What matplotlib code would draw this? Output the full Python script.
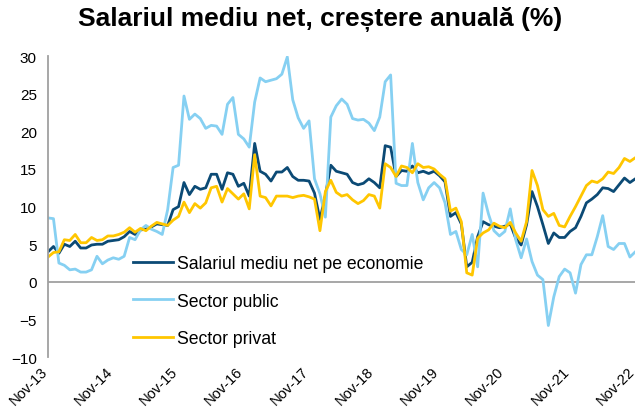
import numpy as np
import matplotlib
matplotlib.use("Agg")
import matplotlib.pyplot as plt
from matplotlib.transforms import ScaledTranslation

plt.rcParams['font.family'] = ['Liberation Sans', 'DejaVu Sans']

# monthly, Nov-13 .. Nov-22
total = [4.0, 4.7, 3.8, 5.0, 4.7, 5.4, 4.5, 4.5, 4.9, 5.0, 5.0, 5.4, 5.5,
         5.6, 6.0, 6.7, 6.3, 6.9, 7.0, 7.3, 7.7, 7.6, 7.5, 9.6, 10.0,
         13.2, 11.6, 12.7, 12.3, 12.5, 14.3, 14.3, 12.3, 14.5, 14.3, 12.7, 13.1,
         11.4, 18.4, 14.7, 14.3, 13.4, 14.6, 14.6, 15.2, 14.0, 13.5, 13.5, 13.4,
         11.8, 8.3, 11.5, 15.5, 14.7, 14.5, 14.3, 13.2, 12.9, 13.1, 13.7, 13.2,
         12.5, 18.1, 17.9, 14.0, 14.8, 14.7, 15.4, 14.5, 14.7, 14.4, 14.7, 14.1,
         13.3, 8.7, 9.2, 7.7, 2.0, 2.6, 6.0, 8.0, 7.6, 7.4, 7.2, 7.4,
         7.7, 5.8, 4.9, 7.6, 12.0, 10.0, 7.6, 5.1, 6.5, 5.9, 5.9, 6.7,
         7.2, 8.7, 10.5, 11.0, 11.6, 12.5, 12.4, 12.0, 12.9, 13.8, 13.2, 13.7]

public = [8.5, 8.4, 2.5, 2.2, 1.6, 1.7, 1.3, 1.3, 1.6, 3.4, 2.4, 2.9, 3.2,
          3.0, 3.4, 5.9, 5.6, 6.9, 7.5, 7.0, 6.7, 6.3, 9.6, 15.2, 15.5,
          24.7, 21.6, 22.3, 21.7, 20.4, 20.8, 20.7, 19.6, 23.6, 24.5, 19.6, 19.0,
          17.9, 23.9, 27.1, 26.6, 26.8, 27.0, 27.6, 29.9, 24.2, 21.8, 20.4, 21.4,
          13.7, 11.7, 8.6, 21.9, 23.4, 24.3, 23.6, 21.7, 21.5, 21.6, 21.1, 20.1,
          21.9, 26.6, 27.5, 13.1, 12.8, 12.8, 18.4, 13.2, 10.9, 12.5, 13.2, 12.5,
          10.5, 6.3, 6.7, 4.3, 3.6, 6.3, 2.0, 11.8, 9.0, 6.8, 6.1, 6.7,
          9.7, 5.6, 3.2, 5.7, 2.7, 0.9, 0.3, -5.8, -2.0, 0.7, 1.7, 1.2,
          -1.5, 2.3, 3.6, 3.6, 6.0, 8.8, 4.7, 4.3, 5.1, 5.1, 3.3, 4.0]

private = [3.3, 3.9, 4.0, 5.6, 5.5, 6.3, 5.2, 5.2, 5.9, 5.5, 5.6, 6.1, 6.1,
           6.3, 6.6, 7.2, 6.6, 7.1, 6.8, 7.4, 7.9, 7.7, 7.5, 8.2, 8.7,
           10.6, 9.2, 10.4, 9.8, 10.5, 12.5, 12.7, 10.6, 12.4, 11.7, 11.0, 11.7,
           9.7, 16.9, 11.4, 11.2, 10.1, 11.4, 11.4, 11.4, 11.2, 11.4, 11.5, 11.3,
           11.0, 6.8, 12.0, 13.5, 11.9, 11.4, 11.6, 10.9, 10.4, 10.8, 11.6, 11.4,
           9.8, 15.7, 15.2, 14.0, 15.4, 15.2, 14.5, 15.7, 15.2, 15.3, 15.0, 14.3,
           13.7, 9.4, 9.8, 8.0, 1.2, 0.9, 5.8, 6.5, 6.9, 7.8, 7.4, 7.2,
           7.9, 6.5, 5.4, 8.0, 14.8, 12.8, 9.6, 8.7, 9.1, 7.5, 7.3, 8.7,
           10.0, 11.4, 12.8, 13.4, 13.2, 13.7, 14.6, 14.4, 15.2, 16.4, 16.0, 16.5]

tick_labels = ['Nov-13', 'Nov-14', 'Nov-15', 'Nov-16', 'Nov-17',
               'Nov-18', 'Nov-19', 'Nov-20', 'Nov-21', 'Nov-22']
series_names = ['Salariul mediu net pe economie', 'Sector public', 'Sector privat']

x = np.arange(len(total))

fig = plt.figure(figsize=(6.37, 4.14), dpi=100)
ax = fig.add_axes([0.0754, 0.135, 0.922, 0.727])

ax.plot(x, total, color='#0B4A75', lw=2.0, label=series_names[0])
ax.plot(x, public, color='#86D0F2', lw=2.0, label=series_names[1])
ax.plot(x, private, color='#FFC600', lw=2.0, label=series_names[2])

ax.axhline(0, color='#A0A0A0', lw=1.3, zorder=0)
ax.set_ylim(-10, 30)
ax.set_xlim(0, len(total) - 1)
ax.set_yticks(range(-10, 31, 5))
ax.set_xticks(range(0, len(total), 12))
ax.set_xticklabels(tick_labels, rotation=45, ha='right', va='top',
                   rotation_mode='anchor')
ax.tick_params(axis='both', length=0, labelsize=11, colors='black')
ax.tick_params(axis='x', labelsize=10.5, pad=5)
ax.tick_params(axis='y', pad=8)
# shift the date labels left so the last one fits inside
shift = ScaledTranslation(-8 / 100, 0, fig.dpi_scale_trans)
for lab in ax.get_xticklabels():
    lab.set_transform(lab.get_transform() + shift)

for s in ['top', 'right', 'bottom']:
    ax.spines[s].set_visible(False)
ax.spines['left'].set_color('#A0A0A0')
ax.spines['left'].set_linewidth(1.3)

ax.legend(loc='upper left', bbox_to_anchor=(0.209, 0.382), bbox_transform=fig.transFigure,
          frameon=False, fontsize=12.7, borderpad=0, borderaxespad=0,
          labelspacing=1.18, handlelength=2.27, handletextpad=0.23)

fig.suptitle('Salariul mediu net, creștere anuală (%)', fontsize=19,
             fontweight='bold', x=0.503, y=0.982)

fig.savefig('out.png', dpi=100)
